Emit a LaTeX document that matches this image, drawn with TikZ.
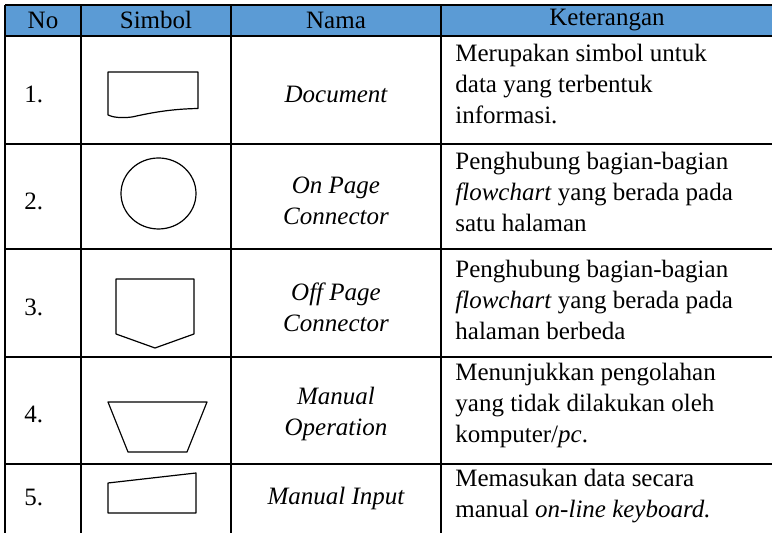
\documentclass[tikz,border=0pt]{standalone}
\usepackage{fontspec}
\setmainfont{Liberation Serif}
\definecolor{headblue}{HTML}{5B9BD5}

\begin{document}
\begin{tikzpicture}[x=0.5pt,y=-0.5pt,
    txt/.style={inner sep=0pt,font=\fontsize{12.5}{15.4}\selectfont},
    nama/.style={txt,align=center,font=\fontsize{12.5}{15.4}\selectfont\itshape},
    ket/.style={txt,align=left,anchor=north west},
    grid/.style={line width=0.65pt},
    symb/.style={line width=0.6pt,line join=round}]
    \useasboundingbox (0,0) rectangle (772,533);

    % Header background
    \fill[headblue] (5,5) rectangle (772,36);

    % Table rules
    \foreach \y in {5,36,144,249,357,464}
        \draw[grid] (5,\y) -- (772,\y);
    \foreach \x in {5,81,231,441}
        \draw[grid] (\x,5) -- (\x,533);

    % Header texts
    \node[txt] (hNo)  at (43,20)  {No};
    \node[txt] (hSim) at (156,20) {Simbol};
    \node[txt] (hNam) at (336,20) {Nama};
    \node[txt] (hKet) at (607,20) {Keterangan};

    % Numbers
    \node[txt,anchor=west] (no1) at (24,94)  {1.};
    \node[txt,anchor=west] (no2) at (24,201) {2.};
    \node[txt,anchor=west] (no3) at (24,307) {3.};
    \node[txt,anchor=west] (no4) at (24,414) {4.};
    \node[txt,anchor=west] (no5) at (24,497) {5.};

    % Names
    \node[nama] (nam1) at (336,94)  {Document};
    \node[nama] (nam2) at (336,201) {On Page\\Connector};
    \node[nama] (nam3) at (336,307) {Off Page\\Connector};
    \node[nama] (nam4) at (336,414) {Manual\\Operation};
    \node[nama] (nam5) at (336,498) {Manual Input};

    % Descriptions
    \node[ket] (ket1) at (455,44)
        {Merupakan simbol untuk\\data yang terbentuk\\informasi.};
    \node[ket] (ket2) at (455,152)
        {Penghubung bagian-bagian\\\textit{flowchart} yang berada pada\\satu halaman};
    \node[ket] (ket3) at (455,260)
        {Penghubung bagian-bagian\\\textit{flowchart} yang berada pada\\halaman berbeda};
    \node[ket] (ket4) at (455,363)
        {Menunjukkan pengolahan\\yang tidak dilakukan oleh\\komputer/\textit{pc}.};
    \node[ket] (ket5) at (455,469)
        {Memasukan data secara\\manual \textit{on-line keyboard.}};

    % Symbols
    \draw[symb] (108,72) -- (198,72) -- (198,108.5)
        .. controls (170,109) and (150,113) .. (132,117)
        .. controls (120,118.5) and (112,117) .. (108,115) -- cycle;
    \draw[symb] (158.5,193.5) ellipse (37.5 and 35.5);
    \draw[symb] (116,279) -- (194,279) -- (194,334) -- (155,348) -- (116,334) -- cycle;
    \draw[symb] (108,402) -- (207,402) -- (187,452) -- (128,452) -- cycle;
    \draw[symb] (108,483) -- (196,473) -- (196,513) -- (108,513) -- cycle;
\end{tikzpicture}
\end{document}
